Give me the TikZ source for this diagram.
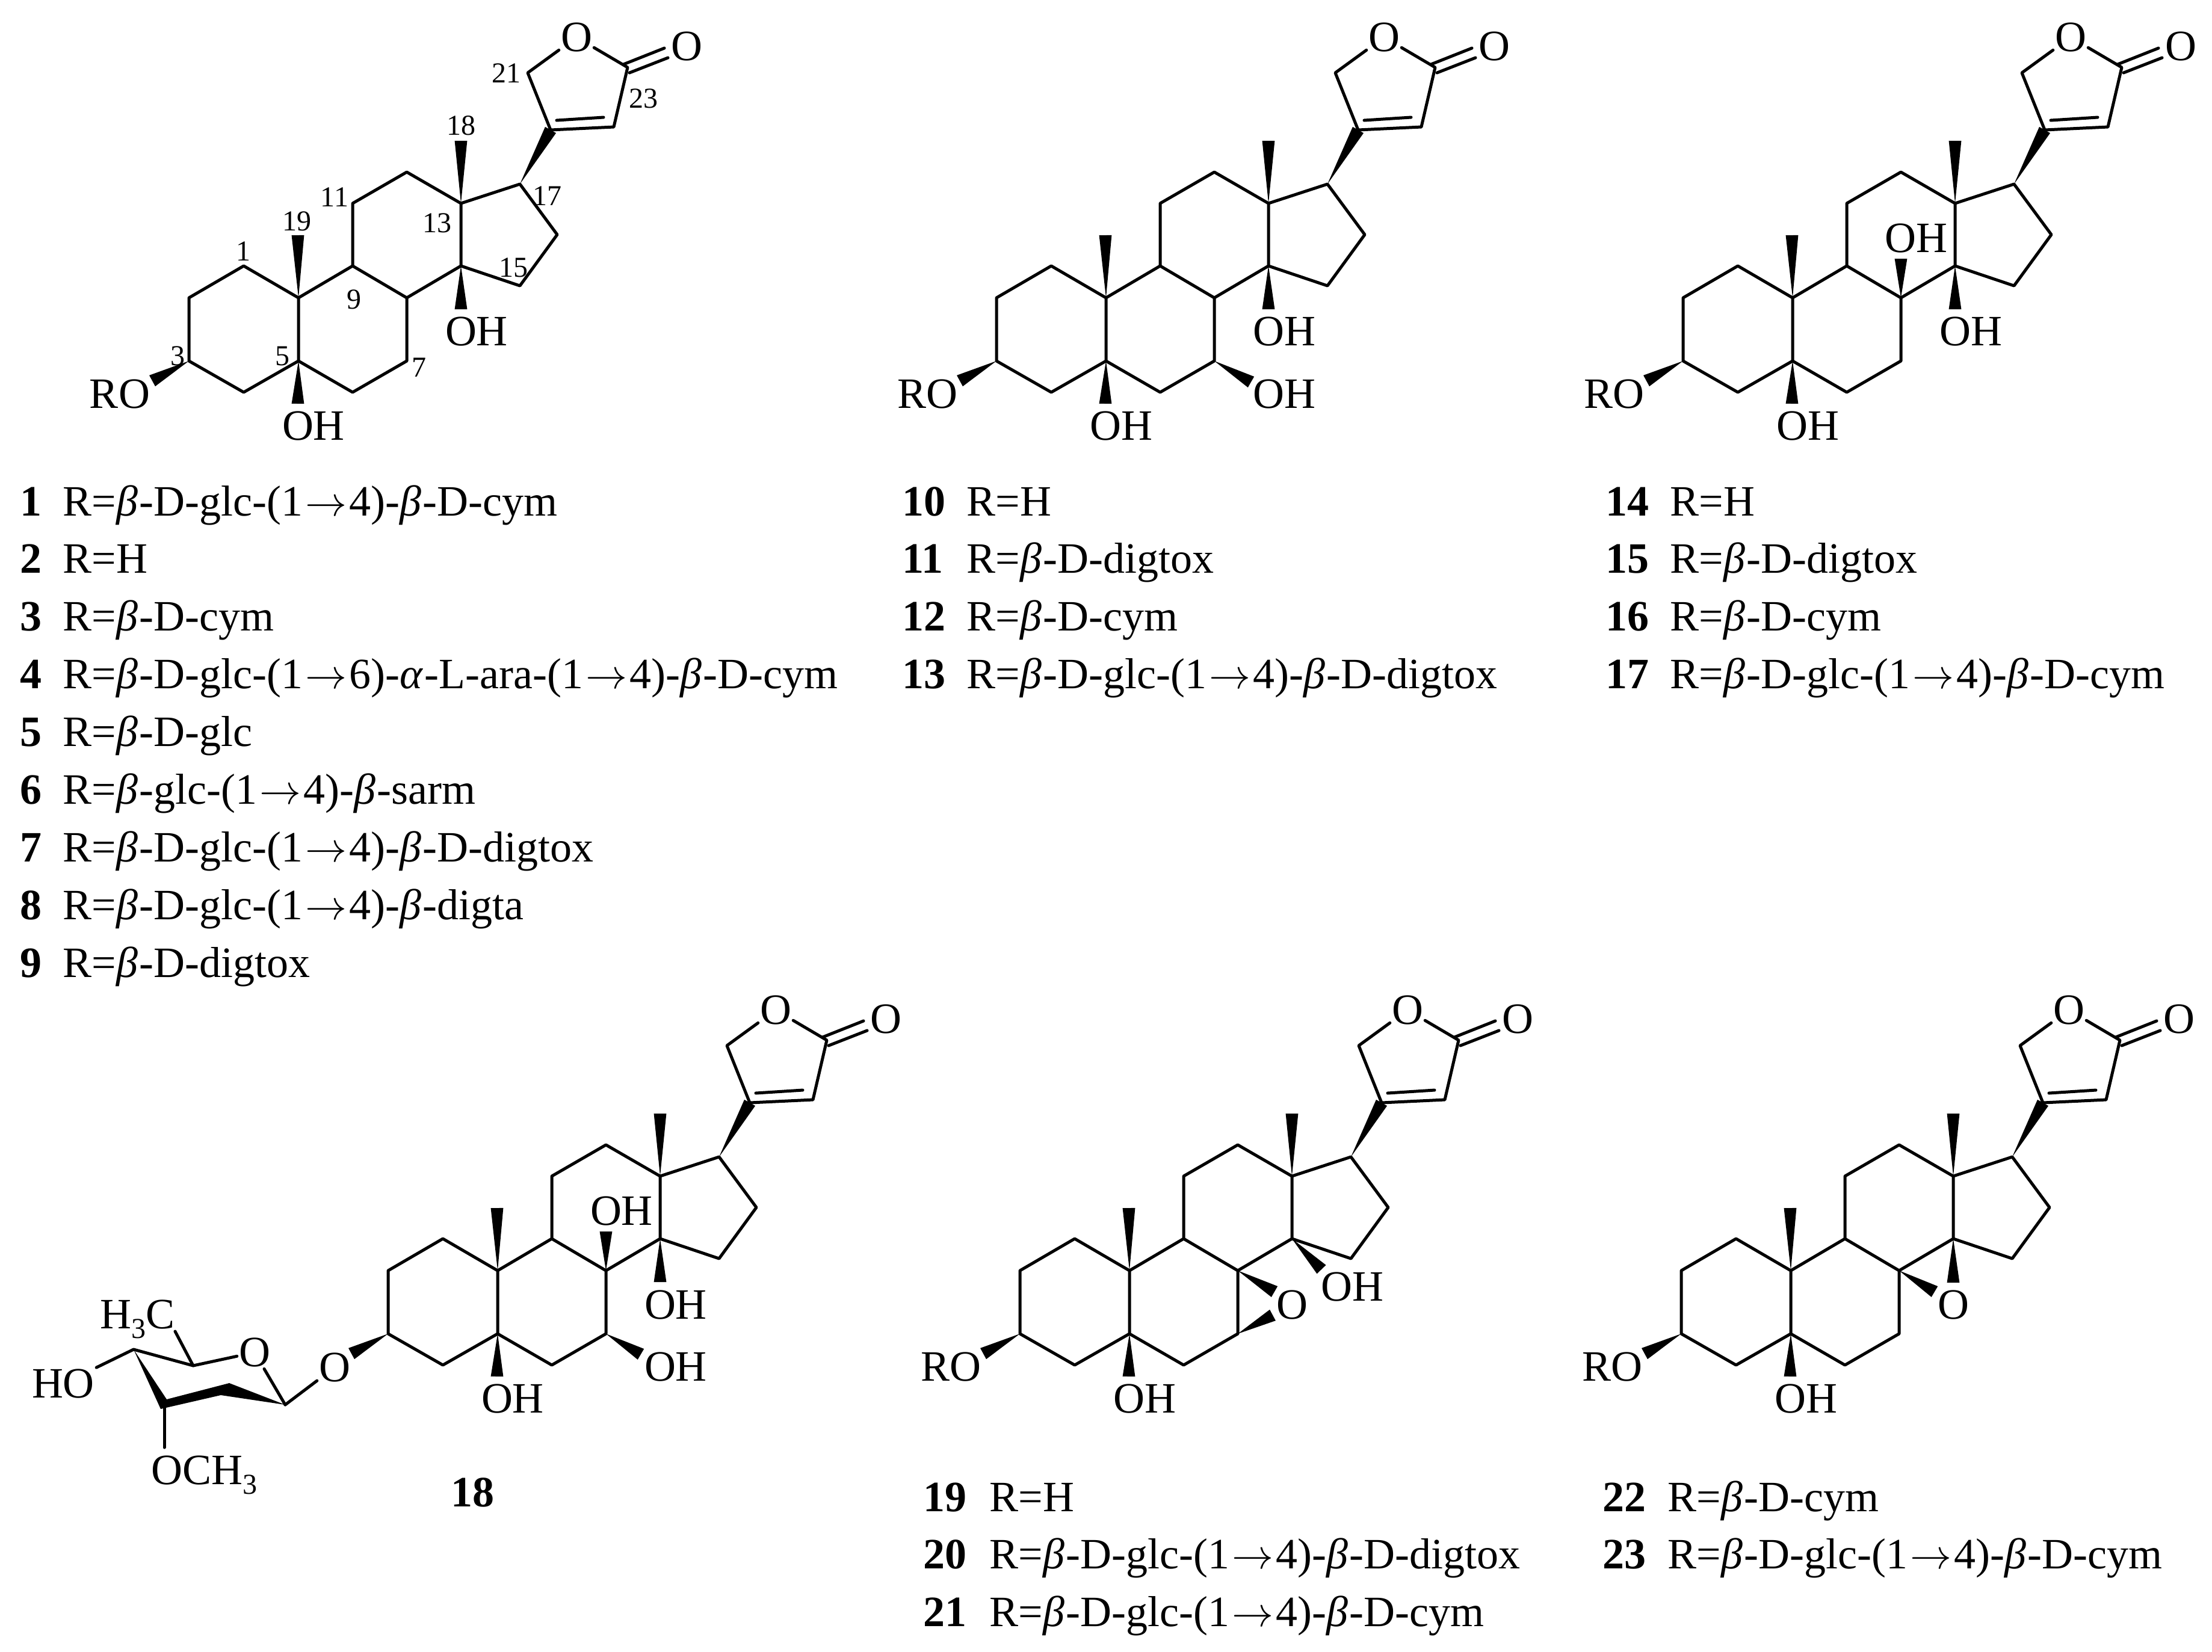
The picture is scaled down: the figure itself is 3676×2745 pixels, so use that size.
\documentclass[tikz,border=0pt]{standalone}
\usepackage{fontspec}
\setmainfont{Liberation Serif}
\usetikzlibrary{calc}
\newcommand{\ba}{\textit{β}\kern0.6pt}
\newcommand{\al}{\textit{α}\kern0.6pt}
\newcommand{\toarrow}{\kern1pt$\rightarrow$\kern0.9pt}
\newcommand{\subthree}{\raisebox{-4pt}{\fontsize{12}{12}\selectfont 3}}
\newcommand{\wedgebond}[2]{\fill ($(#2)!2.6pt!90:(#1)$) -- (#1) -- ($(#2)!2.6pt!-90:(#1)$) -- cycle;}
\newcommand{\steroid}[4]{%
  \begin{scope}[shift={(#1,#2)},name prefix=#3-]
    \coordinate (c10) at (0,0);
    \coordinate (c1) at (-91,-53);
    \coordinate (c2) at (-182,0);
    \coordinate (c3) at (-182,105);
    \coordinate (c4) at (-91,157);
    \coordinate (c5) at (0,105);
    \coordinate (c6) at (90,157);
    \coordinate (c7) at (180,105);
    \coordinate (c8) at (180,0);
    \coordinate (c9) at (90,-53);
    \coordinate (c11) at (90,-157);
    \coordinate (c12) at (180,-209);
    \coordinate (c13) at (270,-157);
    \coordinate (c14) at (270,-53);
    \coordinate (c15) at (368,-20);
    \coordinate (c16) at (430,-105);
    \coordinate (c17) at (368,-189);
    \coordinate (c20) at (419,-279);
    \coordinate (c21) at (381,-374);
    \coordinate (c22) at (524,-284);
    \coordinate (c23) at (547,-383);
    \coordinate (w19) at (-1,-104);
    \coordinate (w18) at (270,-261);
    \coordinate (w5) at (-1,176);
    \node[atom] (ringo) at (462,-433) {O};
    \node[atom] (oxo) at (645,-418) {O};
    \draw[bond] (c10) -- (c1) -- (c2) -- (c3) -- (c4) -- (c5) -- (c6) -- (c7) -- (c8) -- (c9) -- (c10) -- (c5);
    \draw[bond] (c9) -- (c11) -- (c12) -- (c13) -- (c14) -- (c8);
    \draw[bond] (c13) -- (c17) -- (c16) -- (c15) -- (c14);
    \draw[bond] (c20) -- (c21) -- (ringo) -- (c23) -- (c22) -- (c20);
    \draw[bond] ($(c20)+(10,-16)$) -- ($(c22)+(-17,-16)$);
    \draw[bond] ($(c23)+(-7,-5)$) -- ($(oxo)+(-37,3)$);
    \draw[bond] ($(c23)+(3,9)$) -- ($(oxo)+(-31,19)$);
    \wedgebond{c10}{w19}
    \wedgebond{c13}{w18}
    \wedgebond{c5}{w5}
    \wedgebond{c17}{c20}
    \node[atom] (oh5) at (25,213) {OH};
    #4
  \end{scope}}
\newcommand{\cpdlist}[4]{%
  \foreach \idx/\txt [count=\i from 0] in {#4} {
    \node[cpdlabel] (cpd\idx) at (#1,{#3+95.9*\i}) {\textbf{\idx}};
    \node[cpdlabel] (rgroup\idx) at (#2,{#3+95.9*\i}) {\txt};
  }}

\begin{document}
\begin{tikzpicture}[x=0.25pt,y=-0.25pt]
  \tikzset{
    bond/.style={line width=1.25pt,line cap=round,line join=round},
    atom/.style={inner sep=0.6pt,font=\fontsize{18}{20}\selectfont},
    locant/.style={inner sep=0pt,font=\fontsize{12}{12}\selectfont},
    cpdlabel/.style={inner sep=0pt,anchor=base west,font=\fontsize{18}{20}\selectfont}
  }
  \useasboundingbox (0,0) rectangle (3676,2745);

  \steroid{496}{495}{one}{
    \coordinate (w14) at (270,19);
    \coordinate (w3) at (-243,138);
    \wedgebond{c14}{w14}
    \wedgebond{c3}{w3}
    \node[atom] (oh14) at (296,56) {OH};
    \node[atom] (ro) at (-297,160) {RO};
    \node[locant] (n1) at (-92,-77) {1};
    \node[locant] (n3) at (-201,97) {3};
    \node[locant] (n5) at (-27,97) {5};
    \node[locant] (n7) at (200,116) {7};
    \node[locant] (n9) at (92,3) {9};
    \node[locant] (n11) at (60,-167) {11};
    \node[locant] (n13) at (230,-124) {13};
    \node[locant] (n15) at (357,-50) {15};
    \node[locant] (n17) at (413,-169) {17};
    \node[locant] (n18) at (270,-286) {18};
    \node[locant] (n19) at (-3,-127) {19};
    \node[locant] (n21) at (345,-373) {21};
    \node[locant] (n23) at (573,-331) {23};
  }

  \steroid{1838}{495}{ten}{
    \coordinate (w14) at (270,19);
    \coordinate (w3) at (-243,138);
    \coordinate (w7) at (241,140);
    \wedgebond{c14}{w14}
    \wedgebond{c3}{w3}
    \wedgebond{c7}{w7}
    \node[atom] (oh14) at (296,56) {OH};
    \node[atom] (oh7) at (296,160) {OH};
    \node[atom] (ro) at (-297,160) {RO};
  }

  \steroid{2979}{495}{fourteen}{
    \coordinate (w14) at (270,19);
    \coordinate (w3) at (-243,138);
    \coordinate (w8) at (180,-65);
    \wedgebond{c14}{w14}
    \wedgebond{c3}{w3}
    \wedgebond{c8}{w8}
    \node[atom] (oh14) at (296,56) {OH};
    \node[atom] (oh8) at (205,-99) {OH};
    \node[atom] (ro) at (-297,160) {RO};
  }

  \steroid{827}{2112}{eighteen}{
    \coordinate (w14) at (270,19);
    \coordinate (w3) at (-243,138);
    \coordinate (w8) at (180,-65);
    \coordinate (w7) at (238,139);
    \wedgebond{c14}{w14}
    \wedgebond{c3}{w3}
    \wedgebond{c8}{w8}
    \wedgebond{c7}{w7}
    \node[atom] (oh14) at (296,57) {OH};
    \node[atom] (oh8) at (206,-99) {OH};
    \node[atom] (oh7) at (296,160) {OH};
  }

  \steroid{1877}{2112}{nineteen}{
    \coordinate (w3) at (-243,138);
    \coordinate (w14) at (319,-2);
    \coordinate (w8) at (241,35);
    \coordinate (w7) at (238,74);
    \wedgebond{c3}{w3}
    \wedgebond{c14}{w14}
    \wedgebond{c8}{w8}
    \wedgebond{c7}{w7}
    \node[atom] (oh14) at (370,27) {OH};
    \node[atom] (epoxo) at (270,57) {O};
    \node[atom] (ro) at (-297,160) {RO};
  }

  \steroid{2976}{2112}{twentytwo}{
    \coordinate (w3) at (-243,138);
    \coordinate (w14) at (270,20);
    \coordinate (w8) at (239,35);
    \wedgebond{c3}{w3}
    \wedgebond{c14}{w14}
    \wedgebond{c8}{w8}
    \node[atom] (epoxo) at (270,57) {O};
    \node[atom] (ro) at (-297,160) {RO};
  }

  % sugar of 18
  \node[atom] (glyco) at (556,2273) {O};
  \node[atom] (sugaro) at (423,2248) {O};
  \node[atom,anchor=base west,inner sep=0pt] (hcthree) at (166,2208) {H\subthree C};
  \node[atom] (hosugar) at (105,2300) {HO};
  \node[atom,anchor=base west,inner sep=0pt] (ome) at (251,2467) {OCH\subthree};
  \coordinate (s1) at (474,2335);
  \coordinate (s3) at (273,2335);
  \coordinate (s4) at (222,2243);
  \coordinate (s5) at (321,2270);
  \fill (s4) -- (277,2326) -- (381,2299) -- (s1) -- (367,2319) -- (267,2342) -- cycle;
  \draw[bond] (s1) -- (glyco);
  \draw[bond] (s1) -- (sugaro) -- (s5) -- (s4) -- (hosugar);
  \draw[bond] (s5) -- (291,2213);
  \draw[bond] (s3) -- (273,2406);
  \node[cpdlabel] (cpd18) at (749,2504) {\textbf{18}};

  \cpdlist{33}{104}{857}{
    1/{R=\ba-D-glc-(1\toarrow 4)-\ba-D-cym},
    2/{R=H},
    3/{R=\ba-D-cym},
    4/{R=\ba-D-glc-(1\toarrow 6)-\al-L-ara-(1\toarrow 4)-\ba-D-cym},
    5/{R=\ba-D-glc},
    6/{R=\ba-glc-(1\toarrow 4)-\ba-sarm},
    7/{R=\ba-D-glc-(1\toarrow 4)-\ba-D-digtox},
    8/{R=\ba-D-glc-(1\toarrow 4)-\ba-digta},
    9/{R=\ba-D-digtox}}
  \cpdlist{1499}{1606}{857}{
    10/{R=H},
    11/{R=\ba-D-digtox},
    12/{R=\ba-D-cym},
    13/{R=\ba-D-glc-(1\toarrow 4)-\ba-D-digtox}}
  \cpdlist{2668}{2775}{857}{
    14/{R=H},
    15/{R=\ba-D-digtox},
    16/{R=\ba-D-cym},
    17/{R=\ba-D-glc-(1\toarrow 4)-\ba-D-cym}}
  \cpdlist{1534}{1644}{2512}{
    19/{R=H},
    20/{R=\ba-D-glc-(1\toarrow 4)-\ba-D-digtox},
    21/{R=\ba-D-glc-(1\toarrow 4)-\ba-D-cym}}
  \cpdlist{2663}{2771}{2512}{
    22/{R=\ba-D-cym},
    23/{R=\ba-D-glc-(1\toarrow 4)-\ba-D-cym}}
\end{tikzpicture}
\end{document}
